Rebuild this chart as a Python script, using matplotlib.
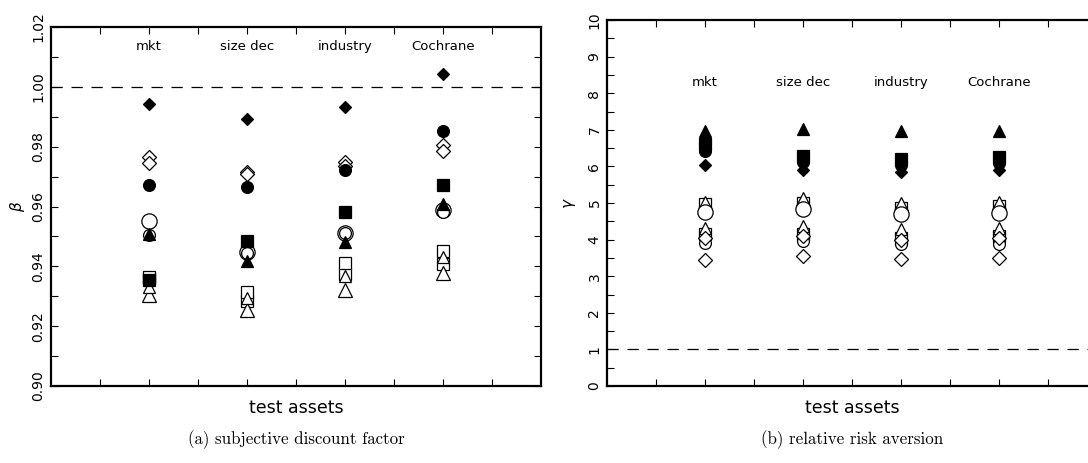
import matplotlib
matplotlib.use("Agg")
import matplotlib.pyplot as plt
from matplotlib.ticker import MultipleLocator, FixedLocator

# ---------------- data ----------------
groups = ["mkt", "size dec", "industry", "Cochrane"]

# beta (subjective discount factor)
beta_filled_diamond  = [0.9943, 0.9893, 0.9932, 1.0044]
beta_filled_circle   = [0.9671, 0.9664, 0.9722, 0.9853]
beta_filled_square   = [0.9355, 0.9484, 0.9580, 0.9671]
beta_filled_triangle = [0.9508, 0.9417, 0.9482, 0.9607]
beta_open_diamond_1  = [0.9764, 0.9714, 0.9748, 0.9807]
beta_open_diamond_2  = [0.9747, 0.9708, 0.9735, 0.9786]
beta_open_circle_1   = [0.9551, 0.9447, 0.9513, 0.9587]
beta_open_circle_2   = [0.9505, 0.9445, 0.9510, 0.9583]
beta_open_square_1   = [0.9362, 0.9284, 0.9373, 0.9408]
beta_open_square_2   = [0.9365, 0.9313, 0.9412, 0.9452]
beta_open_triangle_1 = [0.9305, 0.9255, 0.9322, 0.9377]
beta_open_triangle_2 = [0.9330, 0.9295, 0.9367, 0.9430]

# gamma (relative risk aversion)
gamma_filled_diamond  = [6.05, 5.90, 5.85, 5.90]
gamma_filled_circle   = [6.42, 6.12, 6.05, 6.10]
gamma_filled_square   = [6.62, 6.28, 6.20, 6.25]
gamma_filled_triangle = [6.97, 7.02, 6.97, 6.98]
gamma_open_diamond_1  = [4.05, 4.10, 4.00, 4.05]
gamma_open_diamond_2  = [3.45, 3.56, 3.47, 3.51]
gamma_open_circle_1   = [4.76, 4.83, 4.69, 4.74]
gamma_open_circle_2   = [3.90, 3.96, 3.88, 3.88]
gamma_open_square_1   = [4.96, 5.00, 4.87, 4.92]
gamma_open_square_2   = [4.15, 4.15, 4.05, 4.10]
gamma_open_triangle_1 = [4.99, 5.10, 4.96, 5.00]
gamma_open_triangle_2 = [4.31, 4.37, 4.28, 4.33]

beta_ticks = [0.90, 0.92, 0.94, 0.96, 0.98, 1.00, 1.02]
gamma_ticks = list(range(0, 11))

# ---------------- figure ----------------
W, H = 1088, 463
fig = plt.figure(figsize=(W / 100, H / 100), dpi=100)
SANS = ["DejaVu Sans"]

def rect(x0, x1, y0, y1):
    return [x0 / W, 1 - y1 / H, (x1 - x0) / W, (y1 - y0) / H]

axL = fig.add_axes(rect(51, 541, 27, 386))
axR = fig.add_axes(rect(607, 1097, 20, 386))

xpos = [2 * (i + 1) for i in range(len(groups))]

def series_list(prefix):
    g = globals()
    return [
        # (values, marker, size, filled)
        (g[prefix + "open_square_1"], "s", 9.0, False),
        (g[prefix + "open_square_2"], "s", 8.0, False),
        (g[prefix + "open_triangle_1"], "^", 10.0, False),
        (g[prefix + "open_triangle_2"], "^", 9.0, False),
        (g[prefix + "open_circle_1"], "o", 11.0, False),
        (g[prefix + "open_circle_2"], "o", 8.5, False),
        (g[prefix + "open_diamond_1"], "D", 7.5, False),
        (g[prefix + "open_diamond_2"], "D", 7.0, False),
        (g[prefix + "filled_square"], "s", 8.0, True),
        (g[prefix + "filled_circle"], "o", 8.5, True),
        (g[prefix + "filled_triangle"], "^", 9.0, True),
        (g[prefix + "filled_diamond"], "D", 6.5, True),
    ]

def style_axes(ax, ylim, minor, cat_y, ticks, ticklabels, ylabel, ylabel_x, xlabel_y):
    ax.set_xlim(0, 10)
    ax.set_ylim(*ylim)
    for s in ax.spines.values():
        s.set_linewidth(1.6)
    ax.xaxis.set_major_locator(FixedLocator(list(range(1, 10))))
    ax.yaxis.set_major_locator(FixedLocator(ticks))
    ax.yaxis.set_minor_locator(MultipleLocator(minor))
    ax.tick_params(axis="x", which="both", direction="in", top=True, bottom=True,
                   labelbottom=False, length=5, width=0.8)
    ax.tick_params(axis="y", which="both", direction="in", left=True, right=True,
                   length=5, width=0.8, pad=4)
    ax.set_xticklabels([])
    ax.set_yticklabels(ticklabels)
    for t in ax.get_yticklabels():
        t.set_rotation(90)
        t.set_va("center")
        t.set_fontsize(10)
        t.set_family(SANS)
    ax.set_xlabel("test assets", fontsize=12.5, family=SANS)
    ax.xaxis.set_label_coords(0.5, xlabel_y)
    ax.set_ylabel(ylabel, fontsize=11)
    ax.yaxis.set_label_coords(ylabel_x, 0.5)
    for x, g in zip(xpos, groups):
        ax.text(x, cat_y, g, ha="center", va="center", fontsize=9.5, family=SANS)

for ax, prefix in ((axL, "beta_"), (axR, "gamma_")):
    for vals, m, ms, filled in series_list(prefix):
        ax.plot(xpos, vals, linestyle="none", marker=m, markersize=ms,
                markerfacecolor="black" if filled else "white",
                markeredgecolor="black", markeredgewidth=0.9, zorder=3)
    ax.axhline(1.0, color="black", linewidth=0.9, dashes=(9, 7), zorder=2)

style_axes(axL, (0.90, 1.02), 0.01, 1.0134, beta_ticks,
           [f"{v:.2f}" for v in beta_ticks], r"$\beta$", -0.048, -0.036)
style_axes(axR, (0, 10), 0.5, 8.3, gamma_ticks,
           [str(v) for v in gamma_ticks], r"$\gamma$", -0.06, -0.035)

# sub-captions
fig.text(296 / W, 1 - 440 / H, "(a) subjective discount factor", ha="center", va="center",
         fontsize=12.2, family="cmr10")
fig.text(852 / W, 1 - 440 / H, "(b) relative risk aversion", ha="center", va="center",
         fontsize=12.2, family="cmr10")

fig.savefig("out.png", dpi=100)
